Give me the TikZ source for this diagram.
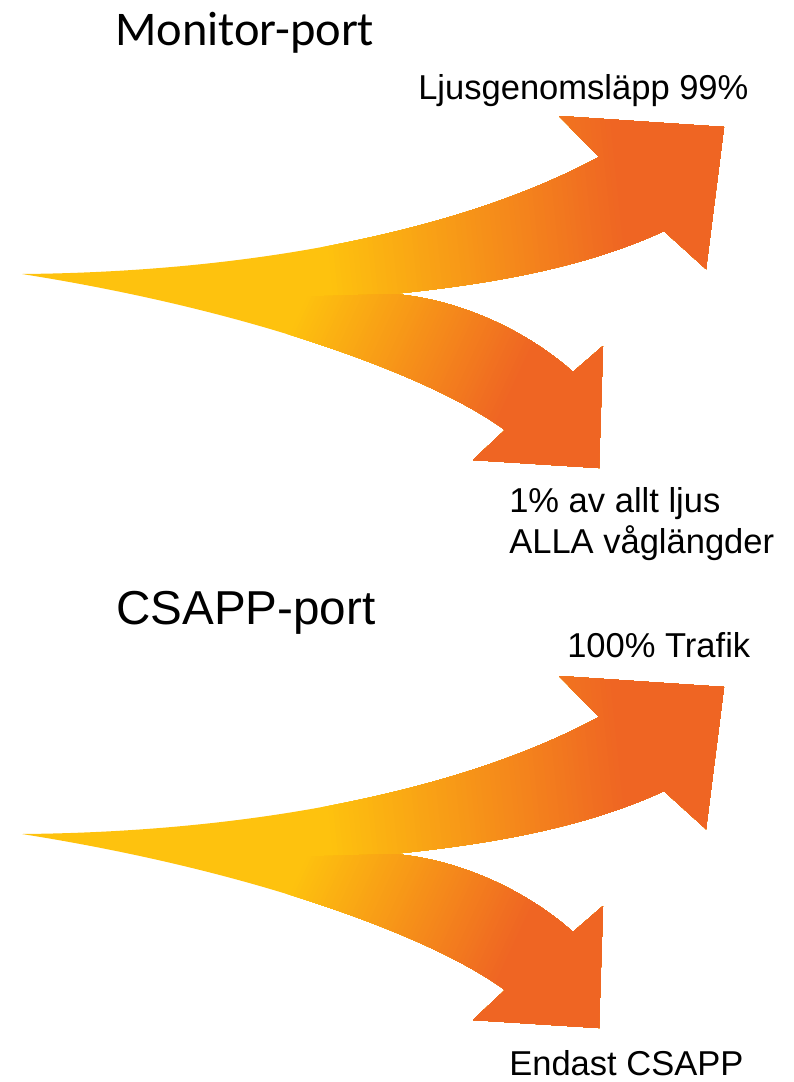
\documentclass[tikz,border=0pt]{standalone}
\usepackage{fontspec}
\setmainfont{Liberation Sans}
\newfontfamily\carlito{Carlito}
\definecolor{arY}{RGB}{254,194,14}
\definecolor{arO}{RGB}{239,101,35}
\tikzset{
  outline/.style={insert path={(22,274) .. controls (250,272) and (460,232) .. (599,157) -- (559,116) -- (724,127) -- (706,269) -- (664,231) .. controls (580,270) and (480,285) .. (393,294) .. controls (450,298) and (520,325) .. (573,372) -- (603,346) -- (599,468) -- (473,460) -- (505,430) .. controls (430,375) and (250,310) .. (22,274) -- cycle}},
  upperpart/.style={insert path={(573,372) .. controls (520,325) and (450,298) .. (393,294) -- (290,297) -- (290,50) -- (800,50) -- (800,330) -- (620,330) -- cycle}},
  lowerpart/.style={insert path={(573,372) .. controls (520,325) and (450,298) .. (393,294) -- (290,297) -- (200,430) -- (700,530) -- (700,330) -- (620,330) -- cycle}},
  ttltext/.style={anchor=base west, inner sep=0pt, font=\fontsize{35.7}{40}\selectfont},
  lbltext/.style={anchor=base west, inner sep=0pt, font=\fontsize{25.9}{30}\selectfont},
}
\newcommand\drawsplit{%
  \fill[arY, outline];
  \begin{scope}
    \clip[outline];
    \clip[upperpart];
    \foreach \i in {0,...,60}{\pgfmathsetmacro\p{100*\i/60}
      \fill[arO!\p!arY] ({308+5*\i},100) -- ({332+5*\i},330) -- (800,330) -- (800,100) -- cycle;}
  \end{scope}
  \begin{scope}
    \clip[outline];
    \clip[lowerpart];
    \begin{scope}[shift={(295,315)},rotate=-25]
      \foreach \i in {0,...,60}{\pgfmathsetmacro\p{100*\i/60}
        \fill[arO!\p!arY] ({227*\i/60},-400) rectangle (700,400);}
    \end{scope}
  \end{scope}
}
\begin{document}
\begin{tikzpicture}[x=0.75pt,y=-0.75pt]
\useasboundingbox (0,0) rectangle (793,1082);
\drawsplit
\begin{scope}[shift={(0,560)}]
\drawsplit
\end{scope}
\node[ttltext, font=\carlito\fontsize{36.3}{40}\selectfont] (t1) at (115,45) {Monitor-port};
\node[ttltext] (t2) at (116,624) {CSAPP-port};
\node[lbltext] (l1) at (418,99) {Ljusgenomsläpp 99\%};
\node[lbltext] (l2) at (509,512) {1\% av allt ljus};
\node[lbltext] (l3) at (509,553) {ALLA våglängder};
\node[lbltext] (l4) at (567,657) {100\% Trafik};
\node[lbltext] (l5) at (509,1075) {Endast CSAPP};
\end{tikzpicture}
\end{document}
